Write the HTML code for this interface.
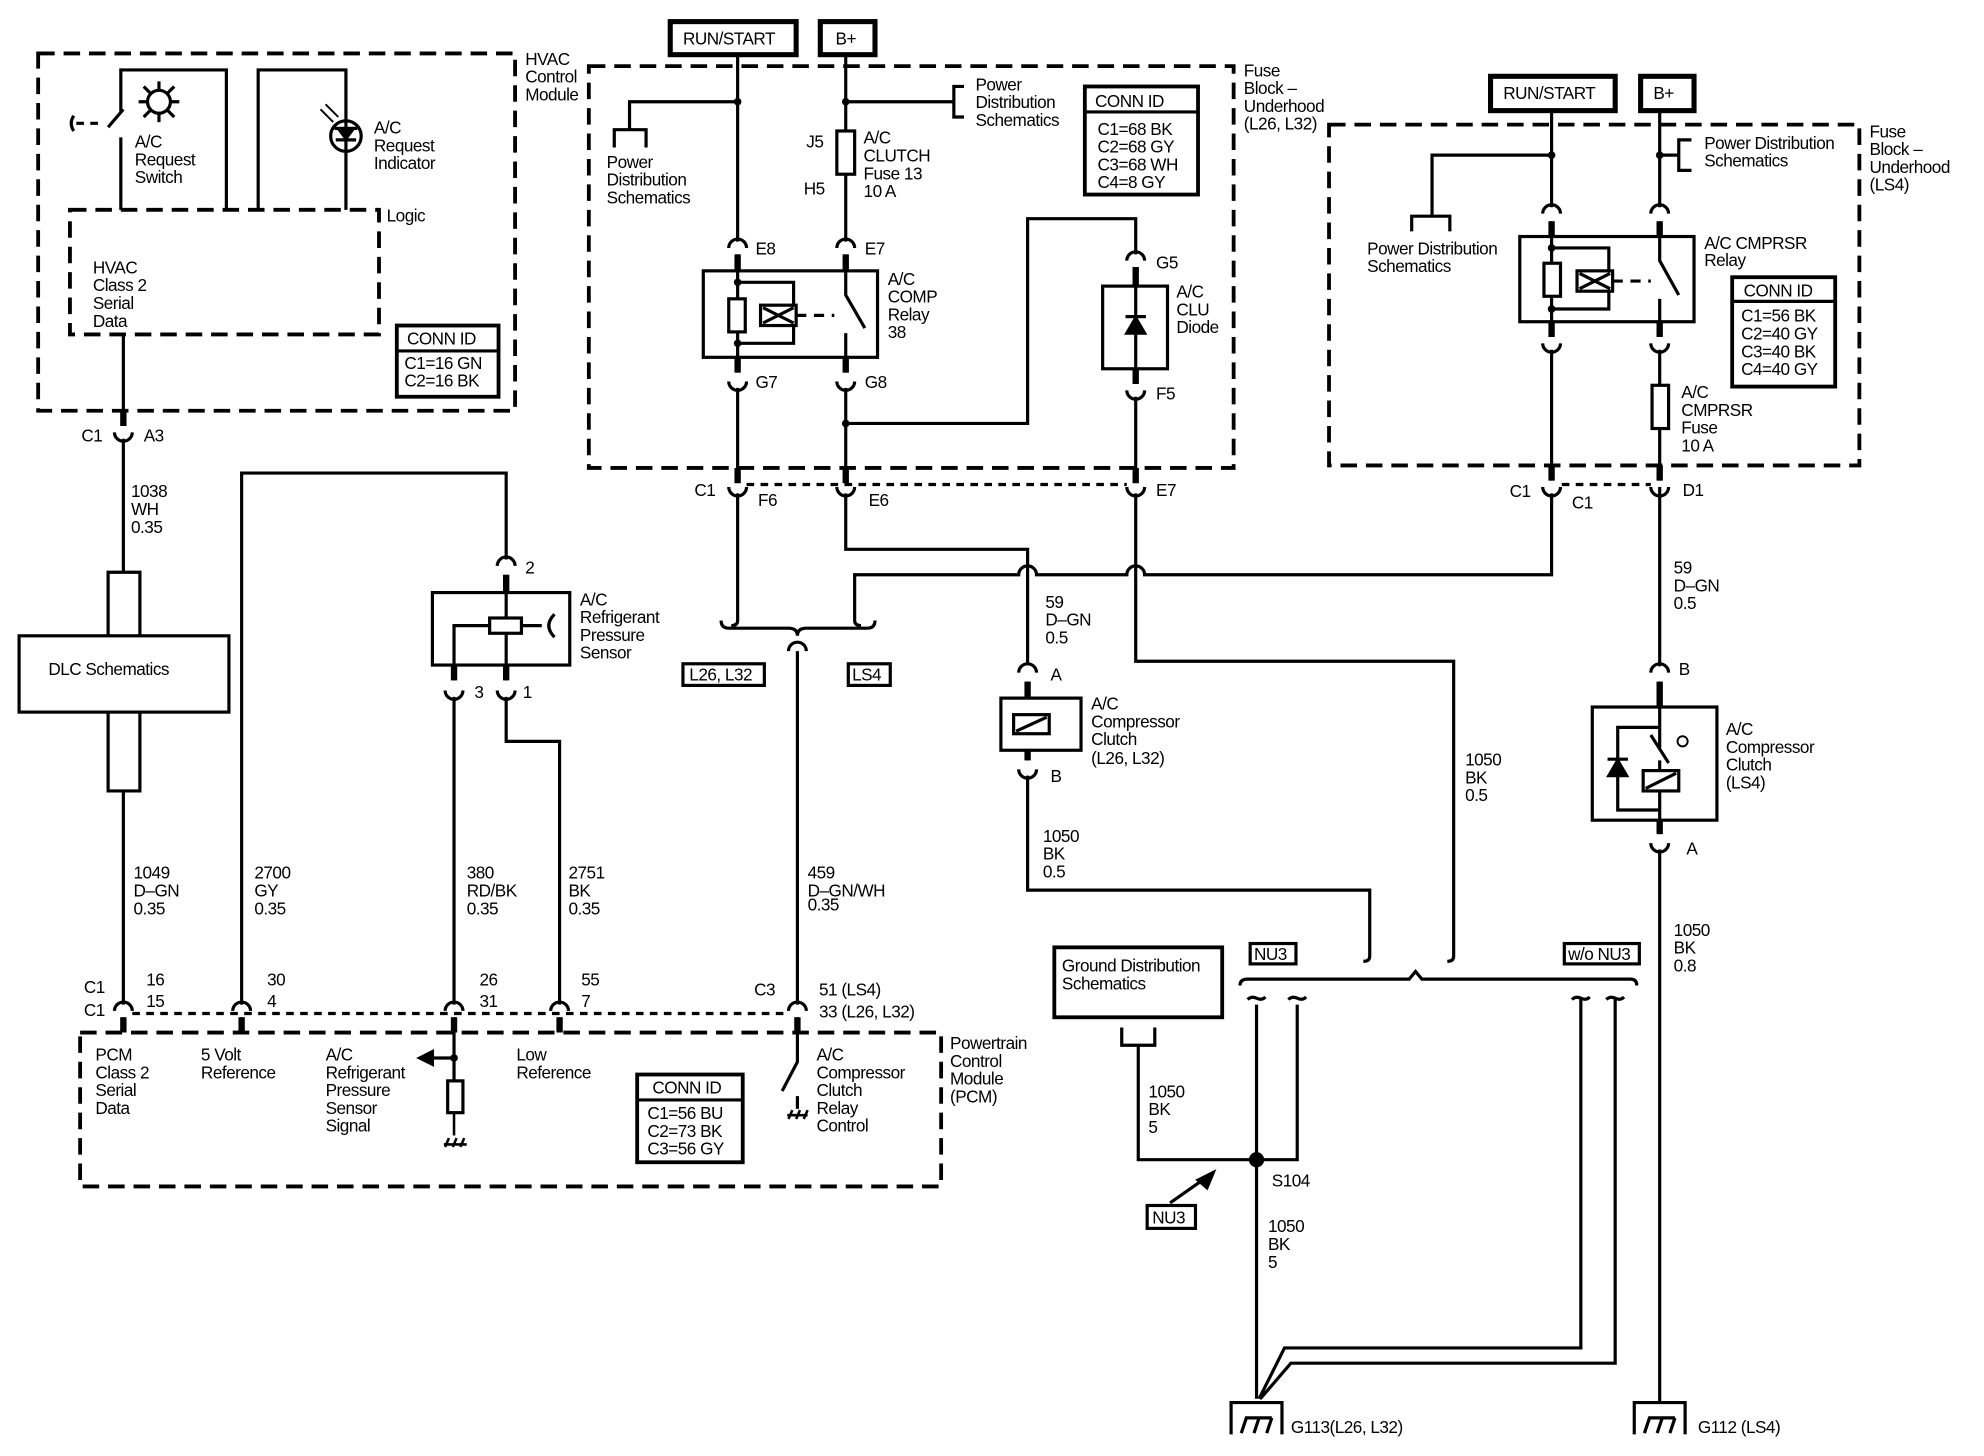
<!DOCTYPE html>
<html><head><meta charset="utf-8"><style>
html,body{margin:0;padding:0;background:#fff;}
svg{display:block;}
text{font-family:"Liberation Sans",sans-serif;font-size:13.5px;fill:#000;letter-spacing:-0.4px;}
</style></head><body>
<svg width="1984" height="1456" viewBox="0 0 1560 1145" preserveAspectRatio="none" xmlns="http://www.w3.org/2000/svg">
<defs>
<path id="cd" d="M-7 5 A7 7 0 0 1 7 5" fill="none" stroke="#000" stroke-width="2.5"/>
<path id="cu" d="M-7 -5 A7 7 0 0 0 7 -5" fill="none" stroke="#000" stroke-width="2.5"/>
<g id="gnd" fill="none" stroke="#000" stroke-width="2.5"><path d="M-20 25 V0 H20 V25"/><path d="M-12 24 L-8 12 H12 M-2 24 L2 12 M8 24 L12 12"/></g>
</defs>
<g fill="none" stroke="#000" stroke-width="2.5">
<g stroke-width="3" stroke-dasharray="13 7">
<rect x="30" y="42" width="375" height="281"/>
<rect x="55" y="165" width="243" height="98"/>
<rect x="463" y="52" width="507" height="316"/>
<rect x="1045" y="98" width="417" height="268"/>
<rect x="63" y="812" width="677" height="121"/>
</g>
<path d="M95 165 V108 M95 88 V55 H178 V165 M85 100 L97 86"/>
<path d="M60 97 H82" stroke-dasharray="6 5"/>
<path d="M58 91 Q54 97 58 103"/>
<circle cx="125" cy="80" r="9"/>
<path d="M125 64 V71 M125 89 V96 M109 80 H116 M134 80 H141 M113 68 L119 74 M131 86 L137 92 M137 68 L131 74 M119 86 L113 92"/>
<path d="M203 165 V55 H272 V165"/>
<circle cx="272" cy="107" r="12"/>
<path d="M263 101 H281 M264 110 H280" />
<path d="M266 101 L272 109 L278 101 Z" fill="#000"/>
<path d="M252 86 L262 96 M256 82 L266 92" stroke-width="1.5"/>
<rect x="312" y="256" width="80" height="56" stroke-width="3"/>
<path d="M312 276 H392"/>
<path d="M97 263 V330 M97 345 V450"/>
<path d="M85 500 V450 H110 V500 M85 560 V622 H110 V560 M97 622 V790"/>
<rect x="15" y="500" width="165" height="60"/>
<rect x="527" y="17" width="99" height="26" stroke-width="4"/>
<rect x="645" y="17" width="43" height="26" stroke-width="4"/>
<path d="M580 43 V190 M665 43 V103 M665 137 V190"/>
<path d="M580 80 H495 V102 M483 116 V102 H508 V116"/>
<path d="M665 80 H750 M758 68 H750 V92 H758"/>
<rect x="658" y="103" width="14" height="34"/>
<rect x="853" y="68" width="89" height="85" stroke-width="3"/>
<path d="M853 88 H942"/>
<rect x="553" y="213" width="137" height="68"/>
<path d="M580 200 V293 M580 222 H624 V270 H580" />
<rect x="573" y="235" width="13" height="26" fill="#fff"/>
<rect x="598" y="240" width="28" height="16" fill="#fff"/>
<path d="M600 242 L624 254 M600 254 L624 242"/>
<path d="M626 248 H656" stroke-dasharray="8 6"/>
<path d="M665 200 V232 L680 258 M665 262 V293"/>
<path d="M580 305 V378 M665 305 V378 M665 333 H808 V172 H893 V200"/>
<rect x="867" y="225" width="51" height="65"/>
<path d="M893 210 V302 M893 312 V378"/>
<path d="M886 262 L893 250 L900 262 Z M885 249 H901" fill="#000"/>
<path d="M587 381 H886" stroke-dasharray="6 5"/>
<rect x="1172" y="60" width="98" height="27" stroke-width="4"/>
<rect x="1290" y="60" width="42" height="27" stroke-width="4"/>
<path d="M1220 87 V163 M1220 122 H1126 V170 M1110 182 V170 H1140 V182"/>
<path d="M1305 87 V163 M1305 122 H1320 M1330 110 H1320 V134 H1330"/>
<rect x="1195" y="186" width="137" height="67"/>
<path d="M1220 174 V265 M1220 195 H1265 V243 H1220"/>
<rect x="1214" y="207" width="13" height="26" fill="#fff"/>
<rect x="1240" y="213" width="28" height="16" fill="#fff"/>
<path d="M1242 215 L1266 227 M1242 227 L1266 215"/>
<path d="M1268 221 H1298" stroke-dasharray="8 6"/>
<path d="M1305 174 V205 L1320 232 M1305 235 V265"/>
<rect x="1362" y="218" width="81" height="86" stroke-width="3"/>
<path d="M1362 237 H1443"/>
<path d="M1220 275 V378 M1305 275 V303 M1305 337 V378"/>
<rect x="1299" y="303" width="13" height="34"/>
<path d="M1228 381 H1298" stroke-dasharray="6 5"/>
<path d="M580 388 V488 Q580 492 575 492"/>
<path d="M665 388 V432 H808 V523"/>
<path d="M1220 388 V452 H900 A7 7 0 0 0 886 452 H815 A7 7 0 0 0 801 452 H672 V488 Q672 492 677 492"/>
<path d="M893 388 V520 H1143 V752 Q1143 756 1138 756"/>
<path d="M567 488 Q567 494 573 494 L620 494 Q627 494 627 500 Q627 494 634 494 L682 494 Q688 494 688 488"/>
<path d="M627 512 V790"/>
<path d="M620 512 A7 7 0 0 1 634 512"/>
<rect x="537" y="522" width="64" height="17"/>
<rect x="667" y="522" width="33" height="17"/>
<rect x="787" y="549" width="63" height="41"/>
<path d="M808 536 V549 M808 590 V598"/>
<rect x="797" y="562" width="28" height="15"/>
<path d="M799 575 L823 564"/>
<path d="M808 610 V700 H1077 V752 Q1077 756 1072 756"/>
<path d="M1305 383 V524 M1305 536 V572"/>
<rect x="1252" y="556" width="98" height="89"/>
<path d="M1305 572 H1272 V637 H1305 M1305 572 V588 M1305 598 V606 M1305 622 V656"/>
<path d="M1265 610 L1272 598 L1279 610 Z M1264 597 H1280" fill="#000"/>
<path d="M1298 578 L1312 600"/>
<circle cx="1323" cy="583" r="4" stroke-width="1.5"/>
<rect x="1292" y="606" width="28" height="16"/>
<path d="M1294 620 L1318 608"/>
<path d="M1305 668 V1103"/>
<path d="M190 790 V372 H398 V440"/>
<rect x="340" y="466" width="108" height="57"/>
<path d="M398 452 V535 M385 492 H357 V535 M410 492 H426"/>
<rect x="385" y="486" width="25" height="12" fill="#fff"/>
<path d="M436 483 Q427 492 436 501"/>
<path d="M357 548 V790 M398 548 V583 H440 V790"/>
<path d="M104 797 H620" stroke-dasharray="6 5"/>
<path d="M97 800 V812 M190 800 V812 M357 800 V850 M440 800 V812 M627 800 V835 L615 858 M627 862 V872"/>
<path d="M357 832 H338"/>
<path d="M330 832 L340 827 L340 837 Z" fill="#000"/>
<rect x="352" y="850" width="12" height="25"/>
<path d="M357 875 V893 M349 900 H367 M350 902 L353 895 M356 902 L359 895 M362 902 L365 895" stroke-width="2"/>
<path d="M619 877 H635 M620 880 L623 873 M626 880 L629 873 M632 880 L635 873" stroke-width="2"/>
<rect x="501" y="845" width="83" height="69" stroke-width="3"/>
<path d="M501 865 H584"/>
<rect x="829" y="745" width="132" height="55" stroke-width="3"/>
<path d="M882 808 V822 H908 V808 M895 822 V912 H1020 V790"/>
<rect x="983" y="742" width="36" height="16"/>
<rect x="1230" y="742" width="59" height="16"/>
<rect x="902" y="948" width="38" height="18"/>
<path d="M920 946 L947 927"/>
<path d="M954 922 L942 928 L949 934 Z" fill="#000"/>
<path d="M975 775 Q975 770 981 770 L1108 770 L1113 764 L1118 770 L1282 770 Q1287 770 1287 775"/>
<path d="M988 790 V1100"/>
<path d="M981 786 Q984 783 988 785 Q992 787 995 784 M1013 786 Q1016 783 1020 785 Q1024 787 1027 784 M1236 786 Q1239 783 1243 785 Q1247 787 1250 784 M1263 786 Q1266 783 1270 785 Q1274 787 1277 784"/>
<path d="M1243 785 V1060 H1010 L990 1100 M1270 785 V1072 H1015 L991 1100"/>
</g>
<circle cx="988" cy="912" r="6" fill="#000"/>
<g fill="#000"><circle cx="580" cy="80" r="3"/><circle cx="665" cy="80" r="3"/><circle cx="665" cy="333" r="3"/><circle cx="580" cy="222" r="3"/><circle cx="580" cy="270" r="3"/><circle cx="1220" cy="122" r="3"/><circle cx="1305" cy="122" r="3"/><circle cx="1220" cy="195" r="3"/><circle cx="1220" cy="243" r="3"/><circle cx="357" cy="832" r="3"/></g>
<g stroke="#000" stroke-width="5">
<path d="M580 200 V213 M665 200 V213 M580 281 V293 M665 281 V293 M893 210 V225 M893 290 V302 M580 368 V380 M665 368 V380 M893 368 V380 M1220 174 V186 M1305 174 V186 M1220 253 V265 M1305 253 V265 M1220 366 V378 M1305 366 V378 M97 323 V335 M398 452 V466 M357 523 V535 M398 523 V535 M808 536 V549 M808 590 V598 M1305 536 V556 M1305 645 V656 M97 800 V812 M190 800 V812 M357 800 V812 M440 800 V812 M627 800 V812"/>
</g>
<use href="#cd" x="580" y="190"/><use href="#cd" x="665" y="190"/>
<use href="#cu" x="580" y="305"/><use href="#cu" x="665" y="305"/>
<use href="#cd" x="893" y="200"/><use href="#cu" x="893" y="312"/>
<use href="#cu" x="580" y="388"/><use href="#cu" x="665" y="388"/><use href="#cu" x="893" y="388"/>
<use href="#cd" x="1220" y="163"/><use href="#cd" x="1305" y="163"/>
<use href="#cu" x="1220" y="275"/><use href="#cu" x="1305" y="275"/>
<use href="#cu" x="1220" y="388"/><use href="#cu" x="1305" y="388"/>
<use href="#cu" x="97" y="345"/>
<use href="#cd" x="398" y="440"/>
<use href="#cu" x="357" y="548"/><use href="#cu" x="398" y="548"/>
<use href="#cd" x="808" y="524"/><use href="#cu" x="808" y="610"/>
<use href="#cd" x="1305" y="524"/><use href="#cu" x="1305" y="668"/>
<use href="#cd" x="97" y="790"/><use href="#cd" x="190" y="790"/><use href="#cd" x="357" y="790"/><use href="#cd" x="440" y="790"/><use href="#cd" x="627" y="790"/>
<use href="#gnd" x="988" y="1103"/><use href="#gnd" x="1305" y="1103"/>
<text x="413" y="51">HVAC</text><text x="413" y="65">Control</text><text x="413" y="79">Module</text>
<text x="106" y="116">A/C</text><text x="106" y="130">Request</text><text x="106" y="144">Switch</text>
<text x="294" y="105">A/C</text><text x="294" y="119">Request</text><text x="294" y="133">Indicator</text>
<text x="304" y="174">Logic</text>
<text x="73" y="215">HVAC</text><text x="73" y="229">Class 2</text><text x="73" y="243">Serial</text><text x="73" y="257">Data</text>
<text x="320" y="271">CONN ID</text><text x="318" y="290">C1=16 GN</text><text x="318" y="304">C2=16 BK</text>
<text x="64" y="347">C1</text><text x="113" y="347">A3</text>
<text x="103" y="391">1038</text><text x="103" y="405">WH</text><text x="103" y="419">0.35</text>
<text x="38" y="531">DLC Schematics</text>
<text x="537" y="35">RUN/START</text><text x="657" y="35">B+</text>
<text x="477" y="132">Power</text><text x="477" y="146">Distribution</text><text x="477" y="160">Schematics</text>
<text x="767" y="71">Power</text><text x="767" y="85">Distribution</text><text x="767" y="99">Schematics</text>
<text x="861" y="84">CONN ID</text><text x="863" y="106">C1=68 BK</text><text x="863" y="120">C2=68 GY</text><text x="863" y="134">C3=68 WH</text><text x="863" y="148">C4=8 GY</text>
<text x="978" y="60">Fuse</text><text x="978" y="74">Block –</text><text x="978" y="88">Underhood</text><text x="978" y="102">(L26, L32)</text>
<text x="634" y="116">J5</text><text x="632" y="153">H5</text>
<text x="679" y="113">A/C</text><text x="679" y="127">CLUTCH</text><text x="679" y="141">Fuse 13</text><text x="679" y="155">10 A</text>
<text x="594" y="200">E8</text><text x="680" y="200">E7</text>
<text x="698" y="224">A/C</text><text x="698" y="238">COMP</text><text x="698" y="252">Relay</text><text x="698" y="266">38</text>
<text x="594" y="305">G7</text><text x="680" y="305">G8</text>
<text x="909" y="211">G5</text><text x="909" y="314">F5</text>
<text x="925" y="234">A/C</text><text x="925" y="248">CLU</text><text x="925" y="262">Diode</text>
<text x="546" y="390">C1</text><text x="596" y="398">F6</text><text x="683" y="398">E6</text><text x="909" y="390">E7</text>
<text x="1182" y="78">RUN/START</text><text x="1300" y="78">B+</text>
<text x="1340" y="117">Power Distribution</text><text x="1340" y="131">Schematics</text>
<text x="1075" y="200">Power Distribution</text><text x="1075" y="214">Schematics</text>
<text x="1340" y="196">A/C CMPRSR</text><text x="1340" y="209">Relay</text>
<text x="1470" y="108">Fuse</text><text x="1470" y="122">Block –</text><text x="1470" y="136">Underhood</text><text x="1470" y="150">(LS4)</text>
<text x="1371" y="233">CONN ID</text><text x="1369" y="253">C1=56 BK</text><text x="1369" y="267">C2=40 GY</text><text x="1369" y="281">C3=40 BK</text><text x="1369" y="295">C4=40 GY</text>
<text x="1322" y="313">A/C</text><text x="1322" y="327">CMPRSR</text><text x="1322" y="341">Fuse</text><text x="1322" y="355">10 A</text>
<text x="1187" y="391">C1</text><text x="1236" y="400">C1</text><text x="1323" y="390">D1</text>
<text x="1316" y="451">59</text><text x="1316" y="465">D–GN</text><text x="1316" y="479">0.5</text>
<text x="1320" y="531">B</text>
<text x="1357" y="578">A/C</text><text x="1357" y="592">Compressor</text><text x="1357" y="606">Clutch</text><text x="1357" y="620">(LS4)</text>
<text x="1326" y="672">A</text>
<text x="1316" y="736">1050</text><text x="1316" y="750">BK</text><text x="1316" y="764">0.8</text>
<text x="1335" y="1127">G112 (LS4)</text>
<text x="413" y="451">2</text>
<text x="456" y="476">A/C</text><text x="456" y="490">Refrigerant</text><text x="456" y="504">Pressure</text><text x="456" y="518">Sensor</text>
<text x="373" y="549">3</text><text x="411" y="549">1</text>
<text x="542" y="535">L26, L32</text><text x="670" y="535">LS4</text>
<text x="822" y="478">59</text><text x="822" y="492">D–GN</text><text x="822" y="506">0.5</text>
<text x="826" y="535">A</text><text x="826" y="615">B</text>
<text x="858" y="558">A/C</text><text x="858" y="572">Compressor</text><text x="858" y="586">Clutch</text><text x="858" y="601">(L26, L32)</text>
<text x="820" y="662">1050</text><text x="820" y="676">BK</text><text x="820" y="690">0.5</text>
<text x="1152" y="602">1050</text><text x="1152" y="616">BK</text><text x="1152" y="630">0.5</text>
<text x="105" y="691">1049</text><text x="105" y="705">D–GN</text><text x="105" y="719">0.35</text>
<text x="200" y="691">2700</text><text x="200" y="705">GY</text><text x="200" y="719">0.35</text>
<text x="367" y="691">380</text><text x="367" y="705">RD/BK</text><text x="367" y="719">0.35</text>
<text x="447" y="691">2751</text><text x="447" y="705">BK</text><text x="447" y="719">0.35</text>
<text x="635" y="691">459</text><text x="635" y="705">D–GN/WH</text><text x="635" y="716">0.35</text>
<text x="66" y="781">C1</text><text x="66" y="799">C1</text>
<text x="115" y="775">16</text><text x="115" y="792">15</text>
<text x="210" y="775">30</text><text x="210" y="792">4</text>
<text x="377" y="775">26</text><text x="377" y="792">31</text>
<text x="457" y="775">55</text><text x="457" y="792">7</text>
<text x="593" y="783">C3</text><text x="644" y="783">51 (LS4)</text><text x="644" y="800">33 (L26, L32)</text>
<text x="747" y="825">Powertrain</text><text x="747" y="839">Control</text><text x="747" y="853">Module</text><text x="747" y="867">(PCM)</text>
<text x="75" y="834">PCM</text><text x="75" y="848">Class 2</text><text x="75" y="862">Serial</text><text x="75" y="876">Data</text>
<text x="158" y="834">5 Volt</text><text x="158" y="848">Reference</text>
<text x="256" y="834">A/C</text><text x="256" y="848">Refrigerant</text><text x="256" y="862">Pressure</text><text x="256" y="876">Sensor</text><text x="256" y="890">Signal</text>
<text x="406" y="834">Low</text><text x="406" y="848">Reference</text>
<text x="513" y="860">CONN ID</text><text x="509" y="880">C1=56 BU</text><text x="509" y="894">C2=73 BK</text><text x="509" y="908">C3=56 GY</text>
<text x="642" y="834">A/C</text><text x="642" y="848">Compressor</text><text x="642" y="862">Clutch</text><text x="642" y="876">Relay</text><text x="642" y="890">Control</text>
<text x="835" y="764">Ground Distribution</text><text x="835" y="778">Schematics</text>
<text x="986" y="755">NU3</text><text x="1233" y="755">w/o NU3</text>
<text x="903" y="863">1050</text><text x="903" y="877">BK</text><text x="903" y="891">5</text>
<text x="1000" y="933">S104</text>
<text x="906" y="962">NU3</text>
<text x="997" y="969">1050</text><text x="997" y="983">BK</text><text x="997" y="997">5</text>
<text x="1015" y="1127">G113(L26, L32)</text>
</svg>
</body></html>
